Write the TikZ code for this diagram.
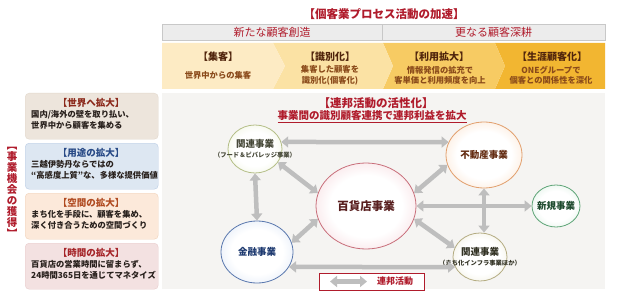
\documentclass[tikz,border=0pt]{standalone}
\usepackage{fontspec}
\setmainfont{Noto Sans CJK JP}
\usetikzlibrary{positioning}
\usetikzlibrary{arrows.meta}
\usetikzlibrary{shapes.geometric}
\definecolor{titlered}{RGB}{176,28,44}
\definecolor{barfill}{RGB}{236,236,236}
\definecolor{barline}{RGB}{200,200,200}
\definecolor{stageA}{RGB}{253,235,196}
\definecolor{stageB}{RGB}{251,226,164}
\definecolor{stageC}{RGB}{247,203,99}
\definecolor{stageD}{RGB}{242,182,49}
\definecolor{stagebrown}{RGB}{80,36,12}
\definecolor{stagetxt}{RGB}{138,74,26}
\definecolor{panelgray}{RGB}{245,244,242}
\definecolor{bodytxt}{RGB}{40,32,28}
\definecolor{linkgray}{RGB}{190,190,190}
\definecolor{fbfill}{RGB}{222,230,188}
\definecolor{fbline}{RGB}{180,190,135}
\definecolor{reafill}{RGB}{246,198,156}
\definecolor{realine}{RGB}{226,160,110}
\definecolor{deptfill}{RGB}{236,176,184}
\definecolor{deptline}{RGB}{200,110,122}
\definecolor{newfill}{RGB}{186,224,198}
\definecolor{newline}{RGB}{95,165,120}
\definecolor{finfill}{RGB}{186,206,236}
\definecolor{finline}{RGB}{90,120,174}
\definecolor{mcfill}{RGB}{222,218,184}
\definecolor{mcline}{RGB}{180,172,130}
\makeatletter
\pgfdeclareradialshading[tikz@radial@inner,tikz@radial@outer]{bizglow}{\pgfpoint{0bp}{0bp}}%
  {color(0bp)=(tikz@radial@inner); color(18bp)=(tikz@radial@inner); color(50bp)=(tikz@radial@outer)}
\makeatother

\begin{document}
\begin{tikzpicture}[x=1pt, y=-1pt,
    toptitle/.style={font=\fontsize{11.5}{13}\selectfont\bfseries, text=titlered, inner sep=0},
    headbar/.style={draw=barline, fill=barfill, minimum height=16pt, inner sep=0, font=\fontsize{11}{13}\selectfont, text=titlered},
    stagetitle/.style={font=\fontsize{10}{12}\selectfont\bfseries, text=stagebrown, inner sep=0},
    stagetext/.style={font=\fontsize{8.3}{10.5}\selectfont\bfseries, text=stagetxt, align=center, inner sep=0},
    oppbox/.style={rounded corners=4pt, minimum width=133pt, minimum height=46pt, inner sep=0, anchor=north west},
    opptitle/.style={font=\fontsize{9.5}{11}\selectfont\bfseries, inner sep=0},
    oppbody/.style={font=\fontsize{8.3}{11}\selectfont\bfseries, text=bodytxt, align=left, inner sep=0, anchor=north west},
    biz/.style={ellipse, inner sep=0, line width=0.8pt, inner color=white, outer color=#1, shading=bizglow},
    bizname/.style={font=\fontsize{9.5}{11}\selectfont\bfseries, inner sep=0, align=center},
    link/.style={draw=linkgray, line width=4.5pt, {Triangle[width=11pt,length=7pt]}-{Triangle[width=11pt,length=7pt]}}]
    \useasboundingbox (0,0) rectangle (620,302);
    \fill[white] (0,0) rectangle (620,302);

    % process header
    \node[toptitle] (proc) at (384,14) {【個客業プロセス活動の加速】};
    \node[headbar, minimum width=220pt] (create) at (272,32) {新たな顧客創造};
    \node[headbar, minimum width=223pt] (deepen) at (493.5,32) {更なる顧客深耕};

    % stage chevrons
    \fill[stageD] (495,43) -- (605,43) -- (605,89) -- (495,89) -- (505,66) -- cycle;
    \fill[stageC] (383,43) -- (495,43) -- (505,66) -- (495,89) -- (383,89) -- (393,66) -- cycle;
    \fill[stageB] (273,43) -- (383,43) -- (393,66) -- (383,89) -- (273,89) -- (285,66) -- cycle;
    \fill[stageA] (162,43) -- (273,43) -- (285,66) -- (273,89) -- (162,89) -- cycle;
    \node[stagetitle] (attract) at (218,57) {【集客】};
    \node[stagetext] (attractT) at (218,75) {世界中からの集客};
    \node[stagetitle] (ident) at (330,57) {【識別化】};
    \node[stagetext] (identT) at (330,75.5) {集客した顧客を\\識別化(個客化)};
    \node[stagetitle] (usage) at (439,57) {【利用拡大】};
    \node[stagetext] (usageT) at (440,75.5) {情報発信の拡充で\\客単価と利用頻度を向上};
    \node[stagetitle] (life) at (552,57) {【生涯顧客化】};
    \node[stagetext] (lifeT) at (551,75.5) {ONEグループで\\個客との関係性を深化};

    % business opportunities
    \node[font=\fontsize{10.5}{11}\selectfont\bfseries, text=titlered, align=center, inner sep=0] (opp) at (12,192)
        {︻\\事\\業\\機\\会\\の\\獲\\得\\︼};
    \node[oppbox, fill={rgb,255:red,237;green,229;blue,220}, draw={rgb,255:red,226;green,216;blue,204}] (world) at (25,93) {};
    \node[opptitle, text={rgb,255:red,139;green,40;blue,26}] (worldT) at (91,103) {【世界へ拡大】};
    \node[oppbody] (worldB) at (31,110.5) {国内/海外の壁を取り払い、\\世界中から顧客を集める};
    \node[oppbox, fill={rgb,255:red,221;green,231;blue,242}, draw={rgb,255:red,186;green,205;blue,229}] (use) at (25,143) {};
    \node[opptitle, text={rgb,255:red,40;green,74;blue,134}] (useT) at (91,153) {【用途の拡大】};
    \node[oppbody] (useB) at (31,160.5) {三越伊勢丹ならではの\\“高感度上質”な、多様な提供価値};
    \node[oppbox, fill={rgb,255:red,252;green,233;blue,218}, draw={rgb,255:red,240;green,210;blue,186}] (space) at (25,193) {};
    \node[opptitle, text={rgb,255:red,176;green,74;blue,32}] (spaceT) at (91,203) {【空間の拡大】};
    \node[oppbody] (spaceB) at (31,210.5) {まち化を手段に、顧客を集め、\\深く付き合うための空間づくり};
    \node[oppbox, fill={rgb,255:red,243;green,225;blue,225}, draw={rgb,255:red,232;green,204;blue,204}] (time) at (25,243) {};
    \node[opptitle, text={rgb,255:red,165;green,36;blue,40}] (timeT) at (91,253) {【時間の拡大】};
    \node[oppbody] (timeB) at (31,260.5) {百貨店の営業時間に留まらず、\\24時間365日を通じてマネタイズ};

    % federation panel
    \fill[panelgray] (162,93) rectangle (605,289);
    \node[toptitle] (fed) at (376,103) {【連邦活動の活性化】};
    \node[font=\fontsize{10.5}{12}\selectfont\bfseries, text=titlered, inner sep=0] (fedT) at (372,117) {\underline{事業間の識別顧客連携で連邦利益を拡大}};

    \node[biz=fbfill, minimum width=54pt, minimum height=48pt, draw=fbline] (fb) at (255,149) {};
    \node[biz=reafill, minimum width=76pt, minimum height=66pt, draw=realine] (rea) at (484,155) {};
    \node[biz=deptfill, minimum width=100pt, minimum height=86pt, draw=deptline] (dept) at (366,206) {};
    \node[biz=newfill, minimum width=48pt, minimum height=42pt, draw=newline] (new) at (556,206) {};
    \node[biz=finfill, minimum width=72pt, minimum height=62pt, draw=finline] (fin) at (257,252) {};
    \node[biz=mcfill, minimum width=54pt, minimum height=48pt, draw=mcline] (mc) at (480,257) {};

    \node[bizname, text={rgb,255:red,70;green,72;blue,56}] (fbN) at (fb) {関連事業\\[-1.5pt]{\fontsize{6.3}{8}\selectfont （フード＆ビバレッジ事業）}};
    \node[bizname, text={rgb,255:red,100;green,44;blue,18}] (reaN) at (rea) {不動産事業};
    \node[bizname, font=\fontsize{11.5}{13}\selectfont\bfseries, text={rgb,255:red,88;green,30;blue,30}] (deptN) at (dept) {百貨店事業};
    \node[bizname, text={rgb,255:red,30;green,74;blue,46}] (newN) at (new) {新規事業};
    \node[bizname, text={rgb,255:red,30;green,58;blue,112}] (finN) at (fin) {金融事業};
    \node[bizname, text={rgb,255:red,50;green,50;blue,36}] (mcN) at (mc) {関連事業\\[-1.5pt]{\fontsize{6.3}{8}\selectfont （まち化インフラ事業ほか）}};

    \draw[link] (fb.15) -- (rea.160);
    \draw[link] (fb.south) -- (fin.north);
    \draw[link] (fb.-30) -- (dept.165);
    \draw[link] (dept.15) -- (rea.195);
    \draw[link] (dept.east) -- (new.west);
    \draw[link] (rea.south) -- (rea.south |- mc.north);
    \draw[link] (dept.-15) -- (mc.160);
    \draw[link] (dept.-165) -- (fin.15);
    \draw[link] (fin.-25) -- (mc.-158);

    % legend
    \node[draw=titlered, fill=white, line width=0.8pt, minimum width=105pt, minimum height=17pt, inner sep=0] (legend) at (371.5,281.5) {};
    \coordinate (legA) at (330,281.5);
    \coordinate (legB) at (367,281.5);
    \draw[link] (legA) -- (legB);
    \node[font=\fontsize{9}{11}\selectfont\bfseries, text=titlered, inner sep=0] (legT) at (395,281.5) {連邦活動};
\end{tikzpicture}
\end{document}
